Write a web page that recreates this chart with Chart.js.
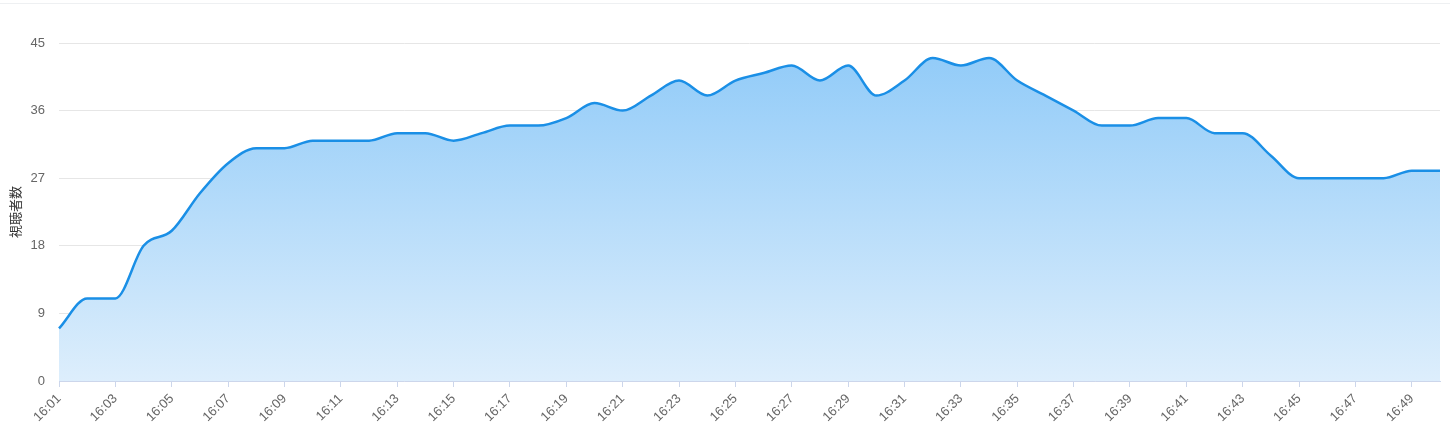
<!DOCTYPE html>
<html>
<head>
<meta charset="utf-8">
<script src="https://cdn.jsdelivr.net/npm/chart.js@4/dist/chart.umd.min.js"></script>
<style>
    body { margin: 0; background: #fff; }
    #wrap { position: relative; width: 1450px; height: 438px; }
    #topLine { position: absolute; left: 0; right: 0; top: 3px; border-top: 1px solid #eef0f2; }
</style>
</head>
<body>
<div id="wrap">
    <div id="topLine"></div>
    <canvas id="viewers" width="1450" height="438"></canvas>
</div>
<script>
// Dados do gráfico
const minutos = [
    '16:01','16:02','16:03','16:04','16:05','16:06','16:07','16:08','16:09','16:10',
    '16:11','16:12','16:13','16:14','16:15','16:16','16:17','16:18','16:19','16:20',
    '16:21','16:22','16:23','16:24','16:25','16:26','16:27','16:28','16:29','16:30',
    '16:31','16:32','16:33','16:34','16:35','16:36','16:37','16:38','16:39','16:40',
    '16:41','16:42','16:43','16:44','16:45','16:46','16:47','16:48','16:49','16:50'
];
const espectadores = [
    7, 11, 11, 18, 20, 25, 29, 31, 31, 32,
    32, 32, 33, 33, 32, 33, 34, 34, 35, 37,
    36, 38, 40, 38, 40, 41, 42, 40, 42, 38,
    40, 43, 42, 43, 40, 38, 36, 34, 34, 35,
    35, 33, 33, 30, 27, 27, 27, 27, 28, 28
];
const yTicks = [0, 9, 18, 27, 36, 45];
const tituloY = '視聴者数';

// Gradiente do preenchimento
function gradiente(context) {
    const chart = context.chart;
    const area = chart.chartArea;
    if (!area) return 'rgba(144,202,249,0.8)';
    const g = chart.ctx.createLinearGradient(0, area.top, 0, area.bottom);
    g.addColorStop(0, '#8fcaf8');
    g.addColorStop(1, '#ddeefc');
    return g;
}

new Chart(document.getElementById('viewers'), {
    type: 'line',
    data: {
        labels: minutos,
        datasets: [{
            data: espectadores,
            borderColor: '#1a8fe6',
            borderWidth: 2.5,
            backgroundColor: gradiente,
            fill: 'origin',
            cubicInterpolationMode: 'monotone',
            pointRadius: 0
        }]
    },
    options: {
        responsive: false,
        animation: false,
        layout: { padding: { top: 43, right: 10, left: 0, bottom: 0 } },
        plugins: { legend: { display: false }, tooltip: { enabled: false } },
        scales: {
            x: {
                offset: false,
                afterFit: scale => {
                    scale.height = 57;
                    scale.paddingLeft = 0;
                    scale.paddingRight = 0;
                },
                border: { display: true, color: '#ccd6eb', width: 1 },
                grid: {
                    drawOnChartArea: false,
                    drawTicks: true,
                    tickLength: 6,
                    color: ctx => (ctx.index % 2 === 0 ? '#ccd6eb' : 'transparent')
                },
                ticks: {
                    autoSkip: false,
                    maxRotation: 45,
                    minRotation: 45,
                    padding: 4,
                    color: '#666',
                    font: { family: 'Liberation Sans, Arial, sans-serif', size: 13 },
                    callback: function(value, index) {
                        return index % 2 === 0 ? minutos[index] : '';
                    }
                }
            },
            y: {
                min: 0,
                max: 45,
                afterFit: scale => { scale.width = 59; },
                afterBuildTicks: scale => { scale.ticks = yTicks.map(v => ({ value: v })); },
                border: { display: false },
                grid: { color: '#e6e6e6', drawTicks: false },
                ticks: {
                    padding: 14,
                    color: '#666',
                    font: { family: 'Liberation Sans, Arial, sans-serif', size: 13 }
                },
                title: {
                    display: true,
                    text: tituloY,
                    color: '#333',
                    padding: { top: 7, bottom: 0 },
                    font: { family: 'Noto Sans CJK JP, sans-serif', size: 13 }
                }
            }
        }
    }
});
</script>
</body>
</html>
